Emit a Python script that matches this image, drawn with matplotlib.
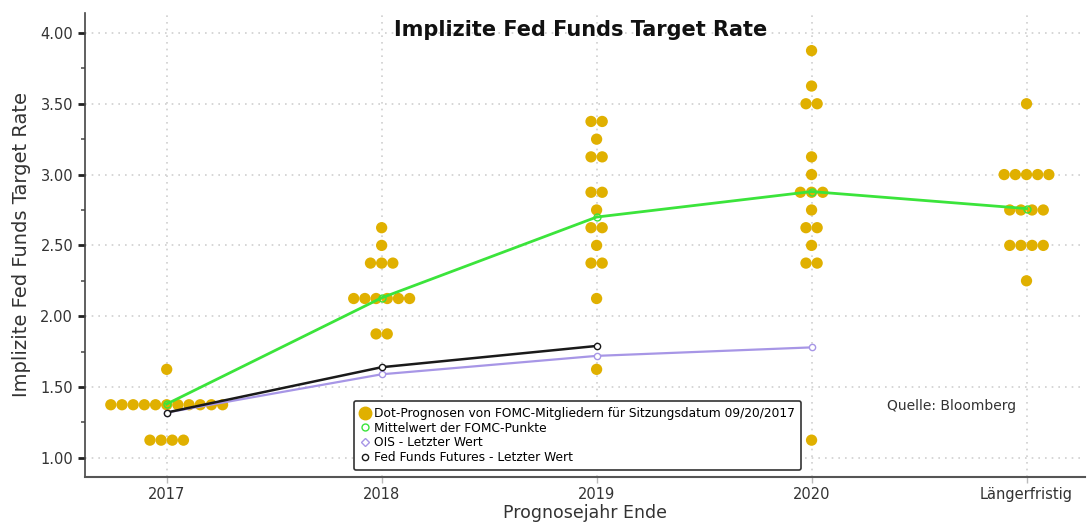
import matplotlib
matplotlib.use("Agg")
import matplotlib.pyplot as plt
from matplotlib.ticker import MultipleLocator
from matplotlib.lines import Line2D

categories = ["2017", "2018", "2019", "2020", "Längerfristig"]

# FOMC dot values (value, count) per category
dot_levels = {
    "2017": [(1.625, 1), (1.375, 11), (1.125, 4)],
    "2018": [(2.625, 1), (2.5, 1), (2.375, 3), (2.125, 6), (1.875, 2)],
    "2019": [(3.375, 2), (3.25, 1), (3.125, 2), (2.875, 2), (2.75, 1),
             (2.625, 2), (2.5, 1), (2.375, 2), (2.125, 1), (1.625, 1)],
    "2020": [(3.875, 1), (3.625, 1), (3.5, 2), (3.125, 1), (3.0, 1),
             (2.875, 3), (2.75, 1), (2.625, 2), (2.5, 1), (2.375, 2), (1.125, 1)],
    "Längerfristig": [(3.5, 1), (3.0, 5), (2.75, 4), (2.5, 4), (2.25, 1)],
}

mean_values = [1.38, 2.13, 2.70, 2.88, 2.76]
ois_values = [1.32, 1.59, 1.72, 1.78]
futures_values = [1.32, 1.64, 1.79]

dot_color = "#E0B000"
green = "#3BE43B"
purple = "#A796E6"
black = "#1A1A1A"

fig = plt.figure(figsize=(10.9, 5.24), dpi=100)
ax = fig.add_axes([0.078, 0.09, 0.917, 0.885])

spacing = 0.052
for i, cat in enumerate(categories):
    xs, ys = [], []
    for val, n in dot_levels[cat]:
        for k in range(n):
            xs.append(i + (k - (n - 1) / 2) * spacing)
            ys.append(val)
    ax.scatter(xs, ys, s=66, color=dot_color, edgecolors="none", zorder=2)

x_mean = list(range(len(mean_values)))
ax.plot(x_mean, mean_values, color=green, lw=2, zorder=3,
        marker="o", markersize=5, markerfacecolor="none", markeredgecolor=green)
ax.plot(list(range(len(ois_values))), ois_values, color=purple, lw=1.6, zorder=4,
        marker="o", markersize=4.5, markerfacecolor="white", markeredgecolor=purple)
ax.plot(list(range(len(futures_values))), futures_values, color=black, lw=1.8, zorder=5,
        marker="o", markersize=4.5, markerfacecolor="white", markeredgecolor=black)

ax.set_xlim(-0.38, 4.27)
ax.set_ylim(0.866, 4.14)
ax.set_xticks(range(len(categories)))
ax.set_xticklabels(categories)
ax.yaxis.set_major_locator(MultipleLocator(0.5))
ax.yaxis.set_minor_locator(MultipleLocator(0.25))
ax.yaxis.set_major_formatter(matplotlib.ticker.FormatStrFormatter("%.2f"))

ax.grid(True, which="major", color="#D0D0D0", linestyle=(0, (1, 3)), lw=1.2, zorder=0)
for s in ["top", "right"]:
    ax.spines[s].set_visible(False)
ax.spines["left"].set_color("#444444")
ax.spines["left"].set_linewidth(1.2)
ax.spines["bottom"].set_color("#555555")
ax.spines["bottom"].set_linewidth(1.5)

ax.tick_params(axis="y", which="major", direction="out", length=5, width=2.0,
               color="#222222", labelsize=10.5, labelcolor="#333333")
ax.tick_params(axis="y", which="minor", direction="out", length=3, width=1.2, color="#555555")
ax.tick_params(axis="x", which="major", direction="out", length=4, width=1, color="#BBBBBB",
               labelsize=10.5, labelcolor="#333333")

ax.set_ylabel("Implizite Fed Funds Target Rate", fontsize=14, color="#333333", labelpad=7)
ax.set_xlabel("Prognosejahr Ende", fontsize=12.5, color="#333333", labelpad=1)

fig.text(0.533, 1 - 30 / 524, "Implizite Fed Funds Target Rate", ha="center", va="center",
         fontsize=15, fontweight="bold", color="#111111")
ax.text(0.802, 0.152, "Quelle: Bloomberg", transform=ax.transAxes, fontsize=10,
        color="#333333", ha="left", va="center")

handles = [
    Line2D([], [], ls="none", marker="o", markersize=9, color=dot_color, markeredgecolor=dot_color),
    Line2D([], [], ls="none", marker="o", markersize=5, markerfacecolor="none", markeredgecolor=green),
    Line2D([], [], ls="none", marker="D", markersize=4, markerfacecolor="none", markeredgecolor=purple),
    Line2D([], [], ls="none", marker="o", markersize=4.5, markerfacecolor="none", markeredgecolor=black),
]
labels = [
    "Dot-Prognosen von FOMC-Mitgliedern für Sitzungsdatum 09/20/2017",
    "Mittelwert der FOMC-Punkte",
    "OIS - Letzter Wert",
    "Fed Funds Futures - Letzter Wert",
]
leg = ax.legend(handles, labels, loc="lower left", bbox_to_anchor=(0.265, 0.006),
                fontsize=8.8, frameon=True, fancybox=True, framealpha=1,
                handlelength=0.8, handletextpad=0.4, labelspacing=0.15,
                borderpad=0.5, borderaxespad=0.3, edgecolor="#333333")
leg.get_frame().set_linewidth(1.2)
leg.set_zorder(10)

fig.savefig("out.png", dpi=100)
